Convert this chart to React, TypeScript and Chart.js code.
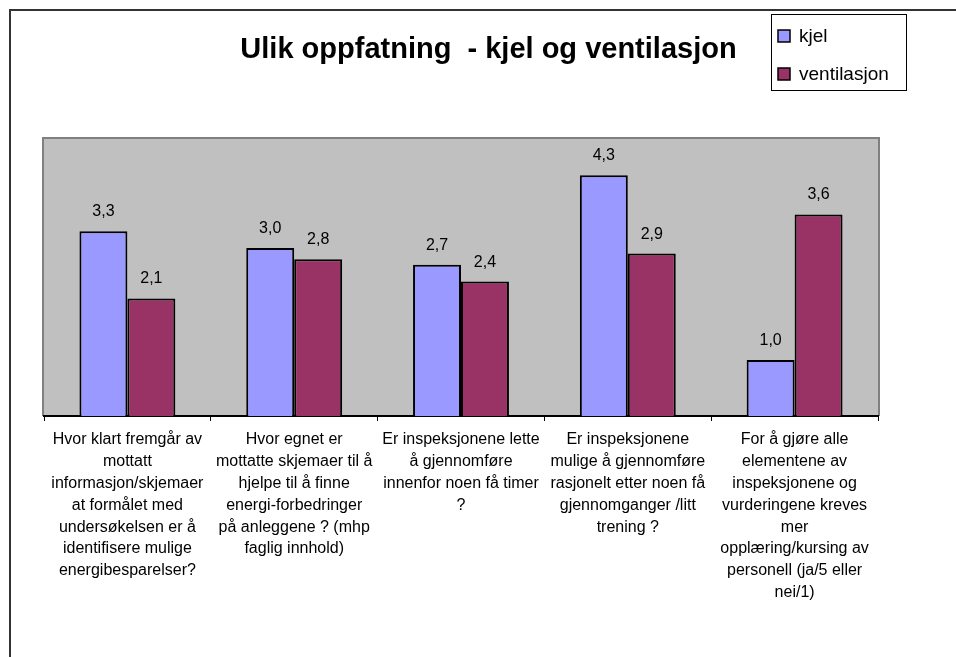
import { useEffect, useRef } from "react";
import { Chart, registerables } from "chart.js";

Chart.register(...registerables);

const titleText = "Ulik oppfatning  - kjel og ventilasjon";

const categories: string[][] = [
  [
    "Hvor klart fremgår av",
    "mottatt",
    "informasjon/skjemaer",
    "at formålet med",
    "undersøkelsen er å",
    "identifisere mulige",
    "energibesparelser?",
  ],
  [
    "Hvor egnet er",
    "mottatte skjemaer til å",
    "hjelpe til å finne",
    "energi-forbedringer",
    "på anleggene ? (mhp",
    "faglig innhold)",
  ],
  ["Er inspeksjonene lette", "å gjennomføre", "innenfor noen få timer", "?"],
  [
    "Er inspeksjonene",
    "mulige å gjennomføre",
    "rasjonelt etter noen få",
    "gjennomganger /litt",
    "trening ?",
  ],
  [
    "For å gjøre alle",
    "elementene av",
    "inspeksjonene og",
    "vurderingene kreves",
    "mer",
    "opplæring/kursing av",
    "personell (ja/5 eller",
    "nei/1)",
  ],
];

const seriesNames = ["kjel", "ventilasjon"];
const kjelValues = [3.3, 3.0, 2.7, 4.3, 1.0];
const ventilasjonValues = [2.1, 2.8, 2.4, 2.9, 3.6];
const seriesColors = ["#9999FF", "#993366"];

const yMin = 0;
const yMax = 5;

const FONT = "'Liberation Sans', Arial, sans-serif";

const fmt = (v: number) => v.toFixed(1).replace(".", ",");

const decorPlugin = {
  id: "decor",
  beforeDraw(chart: any) {
    const { ctx, chartArea: a } = chart;
    ctx.save();
    ctx.fillStyle = "#ffffff";
    ctx.fillRect(0, 0, chart.width, chart.height);
    // outer frame
    ctx.strokeStyle = "#333333";
    ctx.lineWidth = 2;
    ctx.strokeRect(10, 10, 3000, 3000);
    // plot area
    ctx.fillStyle = "#C0C0C0";
    ctx.fillRect(a.left, a.top + 1, a.right - a.left, a.bottom - a.top - 1);
    ctx.strokeStyle = "#808080";
    ctx.lineWidth = 2;
    ctx.beginPath();
    ctx.moveTo(a.left - 1, a.bottom);
    ctx.lineTo(a.left - 1, a.top + 2);
    ctx.lineTo(a.right + 1, a.top + 2);
    ctx.lineTo(a.right + 1, a.bottom);
    ctx.stroke();
    ctx.restore();
  },
  afterDatasetsDraw(chart: any) {
    const { ctx } = chart;
    ctx.save();
    ctx.fillStyle = "#000";
    ctx.font = `16px ${FONT}`;
    ctx.textAlign = "center";
    ctx.textBaseline = "alphabetic";
    chart.data.datasets.forEach((ds: any, i: number) => {
      const meta = chart.getDatasetMeta(i);
      meta.data.forEach((el: any, j: number) => {
        ctx.fillText(fmt(ds.data[j]), el.x, el.y - 15);
      });
    });
    ctx.restore();
  },
  afterDraw(chart: any) {
    const { ctx } = chart;
    ctx.save();
    // title
    ctx.fillStyle = "#000";
    ctx.font = `bold 29px ${FONT}`;
    ctx.textAlign = "center";
    ctx.textBaseline = "alphabetic";
    ctx.fillText(titleText, 488.5, 58);
    // legend box
    ctx.strokeStyle = "#000";
    ctx.lineWidth = 1;
    ctx.strokeRect(771.5, 14.5, 135, 76);
    const ys = [36, 74];
    ctx.font = `19px ${FONT}`;
    ctx.textAlign = "left";
    ctx.textBaseline = "middle";
    chart.data.datasets.forEach((ds: any, i: number) => {
      const y = ys[i];
      ctx.fillStyle = ds.backgroundColor;
      ctx.fillRect(778, y - 6, 12, 12);
      ctx.strokeStyle = "#000";
      ctx.lineWidth = 1.5;
      ctx.strokeRect(778, y - 6, 12, 12);
      ctx.fillStyle = "#000";
      ctx.fillText(ds.label, 799, y + 1);
    });
    ctx.restore();
  },
};

export default function App() {
  const canvasRef = useRef<HTMLCanvasElement>(null);

  useEffect(() => {
    if (!canvasRef.current) return;
    Chart.defaults.font.family = FONT;
    const chart = new Chart(canvasRef.current, {
      type: "bar",
      data: {
        labels: categories,
        datasets: [
          {
            label: seriesNames[0],
            data: kjelValues,
            backgroundColor: seriesColors[0],
            borderColor: "#000",
            borderWidth: 2,
            categoryPercentage: 0.575,
            barPercentage: 1,
          },
          {
            label: seriesNames[1],
            data: ventilasjonValues,
            backgroundColor: seriesColors[1],
            borderColor: "#000",
            borderWidth: 2,
            categoryPercentage: 0.575,
            barPercentage: 1,
          },
        ],
      },
      options: {
        responsive: false,
        animation: false,
        layout: { padding: { left: 44, right: 78, top: 136, bottom: 0 } },
        plugins: {
          legend: { display: false },
          title: { display: false },
          tooltip: { enabled: false },
        },
        scales: {
          x: {
            z: 1,
            grid: {
              offset: true,
              drawOnChartArea: false,
              drawTicks: true,
              tickLength: 5,
              color: "#000",
              lineWidth: 1,
            },
            border: { display: true, color: "#000", width: 2 },
            ticks: {
              color: "#000",
              maxRotation: 0,
              minRotation: 0,
              autoSkip: false,
              padding: 8,
              font: { family: FONT, size: 16, lineHeight: "21.8px" },
            },
            afterFit: (scale: any) => {
              scale.height = 241;
            },
          },
          y: {
            display: false,
            min: yMin,
            max: yMax,
          },
        },
      },
      plugins: [decorPlugin],
    });
    return () => chart.destroy();
  }, []);

  return (
    <div style={{ position: "fixed", left: 0, top: 0, width: 956, height: 657 }}>
      <canvas ref={canvasRef} width={956} height={657} style={{ display: "block" }} />
    </div>
  );
}
